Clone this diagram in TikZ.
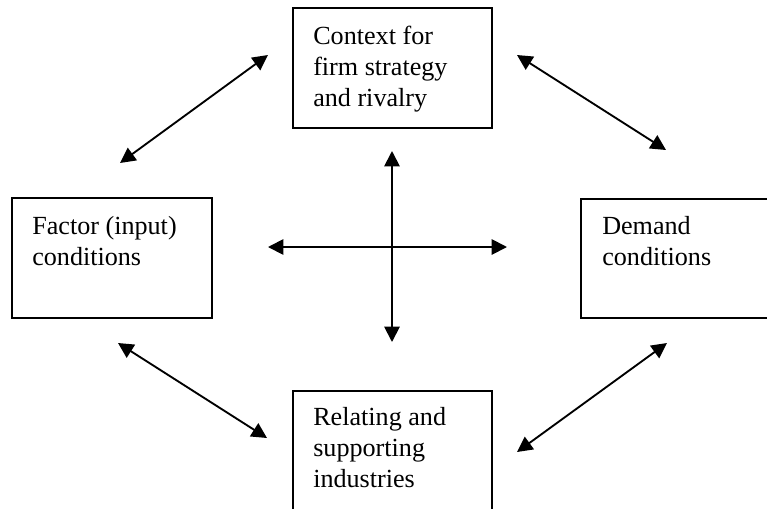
\documentclass[tikz,border=0pt]{standalone}
\usepackage{fontspec}
\setmainfont{Liberation Serif}
\usetikzlibrary{arrows.meta}
\begin{document}
\begin{tikzpicture}[x=0.75pt,y=-0.75pt,
  box/.style={draw=black,line width=1.6pt},
  lbl/.style={anchor=base west,inner sep=0pt,align=left,
    font=\fontsize{19.6pt}{22.9pt}\selectfont},
  link/.style={line width=1.4pt,{Triangle[length=11.5pt,width=11.5pt]}-{Triangle[length=11.5pt,width=11.5pt]}}]
\useasboundingbox (0,0) rectangle (767,508);
\clip (0,0) rectangle (767,508);
% boxes
\draw[box] (293,8) rectangle (492,128) node[pos=0.5] (top) {};
\draw[box] (12,198) rectangle (212,318) node[pos=0.5] (left) {};
\draw[box] (581,199) rectangle (790,318) node[pos=0.5] (right) {};
\draw[box] (293,391) rectangle (492,530) node[pos=0.5] (bottom) {};
% labels (anchored at the baseline of their last line)
\node[lbl] (ttop) at (313,106) {Context for\\firm strategy\\and rivalry};
\node[lbl] (tleft) at (32,265.5) {Factor (input)\\conditions};
\node[lbl] (tright) at (602,265.5) {Demand\\conditions};
\node[lbl] (tbottom) at (313,487) {Relating and\\supporting\\industries};
% arrow ends
\coordinate (a1s) at (268,55);  \coordinate (a1e) at (120,163);
\coordinate (a2s) at (517,55);  \coordinate (a2e) at (666,150);
\coordinate (a3s) at (118,343); \coordinate (a3e) at (267,438);
\coordinate (a4s) at (667,343); \coordinate (a4e) at (517,452);
\coordinate (vs) at (392,151);  \coordinate (ve) at (392,342);
\coordinate (hs) at (268,247);  \coordinate (he) at (507,247);
\draw[link] (a1s) -- (a1e);
\draw[link] (a2s) -- (a2e);
\draw[link] (a3s) -- (a3e);
\draw[link] (a4s) -- (a4e);
\draw[link] (vs) -- (ve);
\draw[link] (hs) -- (he);
\end{tikzpicture}
\end{document}
